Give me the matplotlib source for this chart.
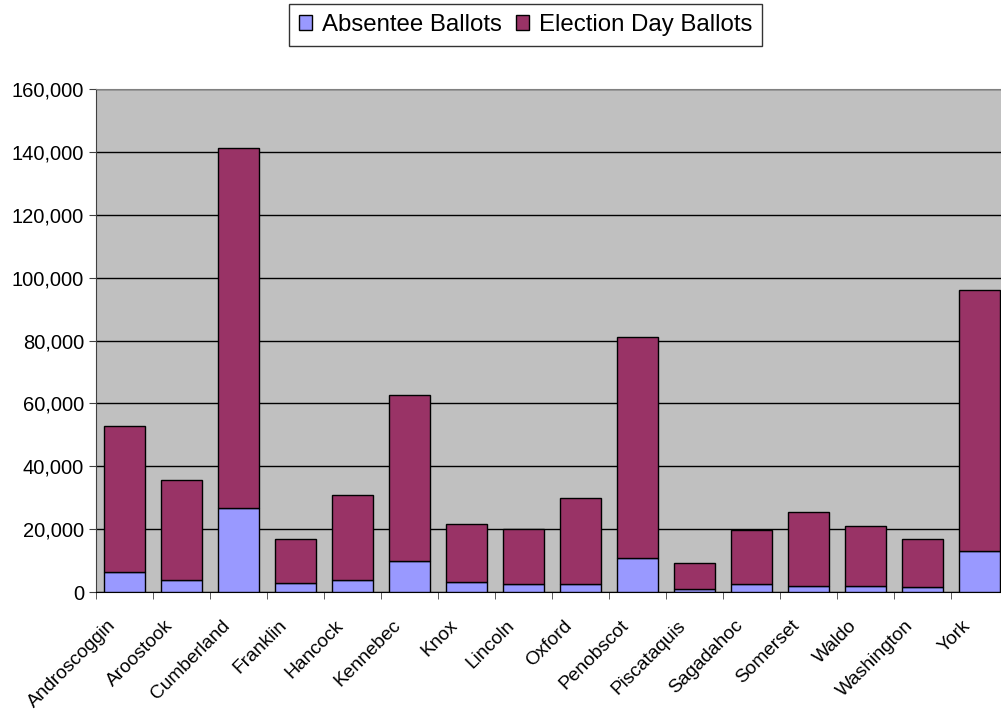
import matplotlib
matplotlib.use("Agg")
import matplotlib.pyplot as plt
import matplotlib.transforms as mtransforms
import numpy as np

plt.rcParams.update({'font.size': 14.5, 'font.family': ['Liberation Sans', 'DejaVu Sans']})

counties = ["Androscoggin", "Aroostook", "Cumberland", "Franklin", "Hancock",
            "Kennebec", "Knox", "Lincoln", "Oxford", "Penobscot", "Piscataquis",
            "Sagadahoc", "Somerset", "Waldo", "Washington", "York"]
# totals, absentee part read separately
total = [52700, 35600, 141200, 16800, 30900, 62600, 21600, 20200,
         29800, 81000, 9300, 19700, 25600, 21000, 16800, 96200]
absentee = [6400, 3800, 26700, 2900, 3900, 9900, 3300, 2600,
            2600, 11000, 1000, 2600, 2100, 2000, 1600, 13200]
election_day = [t - a for t, a in zip(total, absentee)]

fig = plt.figure(figsize=(10.01, 7.17), dpi=100)
ax = fig.add_axes([0.0956, 0.174, 0.911, 0.702])

x = np.arange(len(counties))
ax.set_facecolor("#C0C0C0")
ax.bar(x, absentee, 0.72, color="#9999FF", edgecolor="black", lw=1,
       label="Absentee Ballots", zorder=3)
ax.bar(x, election_day, 0.72, bottom=absentee, color="#993366",
       edgecolor="black", lw=1, label="Election Day Ballots", zorder=3)

ax.set_xlim(-0.5, len(counties) - 0.5)
ax.set_ylim(0, 160000)
ax.set_yticks(np.arange(0, 160001, 20000))
ax.yaxis.set_major_formatter(matplotlib.ticker.StrMethodFormatter("{x:,.0f}"))
ax.grid(axis="y", color="black", lw=1, zorder=1)

ax.set_xticks(x)
ax.set_xticklabels(counties, rotation=45, ha="right", rotation_mode="anchor",
                   fontsize=13.8)
ax.set_xticks(np.arange(-0.5, len(counties), 1), minor=True)
ax.tick_params(axis="x", which="major", length=0, pad=12)
ax.tick_params(axis="x", which="minor", length=5, direction="out", color="#404040")
ax.tick_params(axis="y", length=5, color="#404040")

# move rotated labels a little left and down
shift = mtransforms.ScaledTranslation(-0.17, -0.08, fig.dpi_scale_trans)
for lbl in ax.get_xticklabels():
    lbl.set_transform(lbl.get_transform() + shift)

ax.spines["top"].set_color("#808080")
ax.spines["left"].set_color("#404040")
ax.spines["bottom"].set_color("black")
ax.spines["right"].set_visible(False)

leg = fig.legend(loc="upper center", bbox_to_anchor=(0.525, 0.994), ncol=2,
                 frameon=True, fancybox=False, edgecolor="black", fontsize=17.3,
                 handlelength=0.55, handleheight=0.55, handletextpad=0.4,
                 columnspacing=0.6, borderpad=0.4, borderaxespad=0)
leg.get_frame().set_linewidth(1)

fig.savefig("out.png", dpi=100)
